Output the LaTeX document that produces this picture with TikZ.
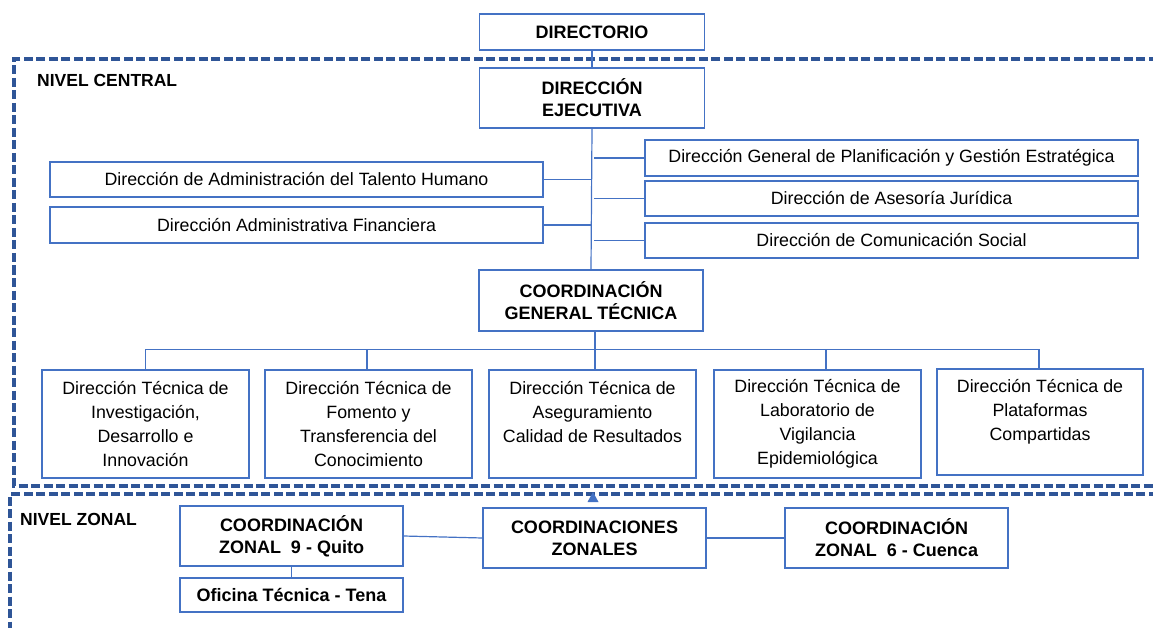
\documentclass[tikz,border=0pt]{standalone}
\usepackage{fontspec}
\setmainfont{Liberation Sans}
\definecolor{boxblue}{HTML}{4472C4}
\definecolor{dashblue}{HTML}{2F5597}
\begin{document}
\begin{tikzpicture}[x=1pt,y=-1pt,
  box/.style={draw=boxblue, line width=1.3pt, fill=white, inner sep=2pt, align=center,
    font=\fontsize{17.8}{24}\selectfont},
  bbox/.style={box, font=\fontsize{18}{22}\selectfont\bfseries},
  conn/.style={draw=boxblue, line width=1.2pt},
  level/.style={draw=dashblue, line width=3.2pt, dash pattern=on 9pt off 3.5pt},
  lab/.style={font=\fontsize{17.5}{19}\selectfont\bfseries, anchor=west, inner sep=0pt}]
\useasboundingbox (0,0) rectangle (1153,628);
\clip (0,0) rectangle (1153,628);

% level frames
\draw[level] (1170,59) -- (14,59) -- (14,486) -- (1170,486);
\draw[level] (1170,494) -- (10,494) -- (10,640);
\node[lab] (nc) at (37,80) {NIVEL CENTRAL};
\node[lab] (nz) at (20,519) {NIVEL ZONAL};

% top boxes
\node[bbox, minimum width=225pt, minimum height=36pt] (dir) at (592,32) {DIRECTORIO};
\node[bbox, minimum width=225pt, minimum height=60pt] (de) at (592,98) {DIRECCIÓN\\EJECUTIVA};

% staff boxes
\node[box, minimum width=493pt, minimum height=35pt] (l1) at (296.5,179.5) {Dirección de Administración del Talento Humano};
\node[box, minimum width=493pt, minimum height=36pt] (l2) at (296.5,225) {Dirección Administrativa Financiera};
\node[box, minimum width=493pt, minimum height=36pt] (r1) at (891.5,158) {Dirección General de Planificación y Gestión Estratégica};
\node[box, minimum width=493pt, minimum height=35pt] (r2) at (891.5,198.5) {Dirección de Asesoría Jurídica};
\node[box, minimum width=493pt, minimum height=35pt] (r3) at (891.5,240.5) {Dirección de Comunicación Social};

\node[bbox, minimum width=224pt, minimum height=61pt] (cgt) at (591,300.5) {COORDINACIÓN\\GENERAL TÉCNICA};

% technical directions
\node[box, minimum width=207pt, minimum height=108pt] (b1) at (145.5,424) {Dirección Técnica de\\Investigación,\\Desarrollo e\\Innovación};
\node[box, minimum width=207pt, minimum height=108pt] (b2) at (368.5,424) {Dirección Técnica de\\Fomento y\\Transferencia del\\Conocimiento};
\node[box, minimum width=207pt, minimum height=108pt] (b3) at (592.5,424) {Dirección Técnica de\\Aseguramiento\\Calidad de Resultados\\\mbox{}};
\node[box, minimum width=207pt, minimum height=108pt] (b4) at (817.5,424) {Dirección Técnica de\\Laboratorio de\\Vigilancia\\Epidemiológica};
\node[box, minimum width=206pt, minimum height=106pt] (b5) at (1040,422) {Dirección Técnica de\\Plataformas\\Compartidas\\\mbox{}};

% zonal
\node[bbox, minimum width=223pt, minimum height=60pt] (cz9) at (291.5,536) {COORDINACIÓN\\ZONAL\ \ 9 - Quito};
\node[bbox, minimum width=223pt, minimum height=34pt] (ot) at (291.5,595) {Oficina Técnica - Tena};
\node[bbox, minimum width=223pt, minimum height=60pt] (cz) at (594.5,538) {COORDINACIONES\\ZONALES};
\node[bbox, minimum width=223pt, minimum height=60pt] (cz6) at (896.5,538) {COORDINACIÓN\\ZONAL\ \ 6 - Cuenca};

% connectors
\draw[conn] (dir.south) -- (de.north);
\draw[conn] (de.south) -- (cgt.north);
\draw[conn] (l1.east) -- (l1.east -| de.south);
\draw[conn] (l2.east) -- (l2.east -| de.south);
\draw[conn] ([xshift=-50pt]r1.west) -- (r1.west);
\draw[conn] ([xshift=-50pt]r2.west) -- (r2.west);
\draw[conn] ([xshift=-50pt]r3.west) -- (r3.west);

\coordinate (bus) at (595,349.5);
\draw[conn] ([xshift=4pt]cgt.south) -- ([xshift=4pt]cgt.south |- bus);
\draw[conn] (b1.north) -- (b1.north |- bus) -- ([xshift=-1pt]b5.north |- bus) -- ([xshift=-1pt]b5.north);
\draw[conn] ([xshift=-1.5pt]b2.north) -- ([xshift=-1.5pt]b2.north |- bus);
\draw[conn] ([xshift=2.5pt]b3.north) -- ([xshift=2.5pt]b3.north |- bus);
\draw[conn] ([xshift=8.5pt]b4.north) -- ([xshift=8.5pt]b4.north |- bus);

\draw[conn] (cz9.south) -- (ot.north);
\draw[conn] (cz9.east) -- (cz.west);
\draw[conn] (cz.east) -- (cz6.west);

\coordinate (tip) at (593,492);
\fill[boxblue] (tip) -- ++(-5.5,10) -- ++(11,0) -- cycle;
\end{tikzpicture}
\end{document}
